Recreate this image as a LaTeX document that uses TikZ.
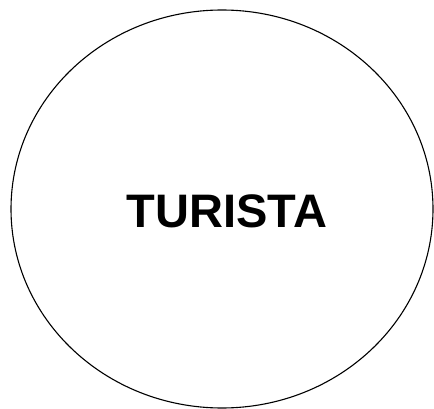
\documentclass[tikz,border=0pt]{standalone}
\usepackage{fontspec}
\setmainfont{Liberation Sans}
\usetikzlibrary{shapes.geometric}

\begin{document}
\begin{tikzpicture}[
  x=1pt, y=-1pt,
  entity/.style={draw, line width=1.1pt, ellipse, minimum width=422pt, minimum height=398pt, inner sep=0pt},
  entitylbl/.style={font=\bfseries\fontsize{47}{56}\selectfont},
]
\useasboundingbox (0,0) rectangle (434,409);
\node[entity] (turista) at (222,209) {};
\node[entitylbl] (lbl) at (227,211) {TURISTA};
\end{tikzpicture}
\end{document}
